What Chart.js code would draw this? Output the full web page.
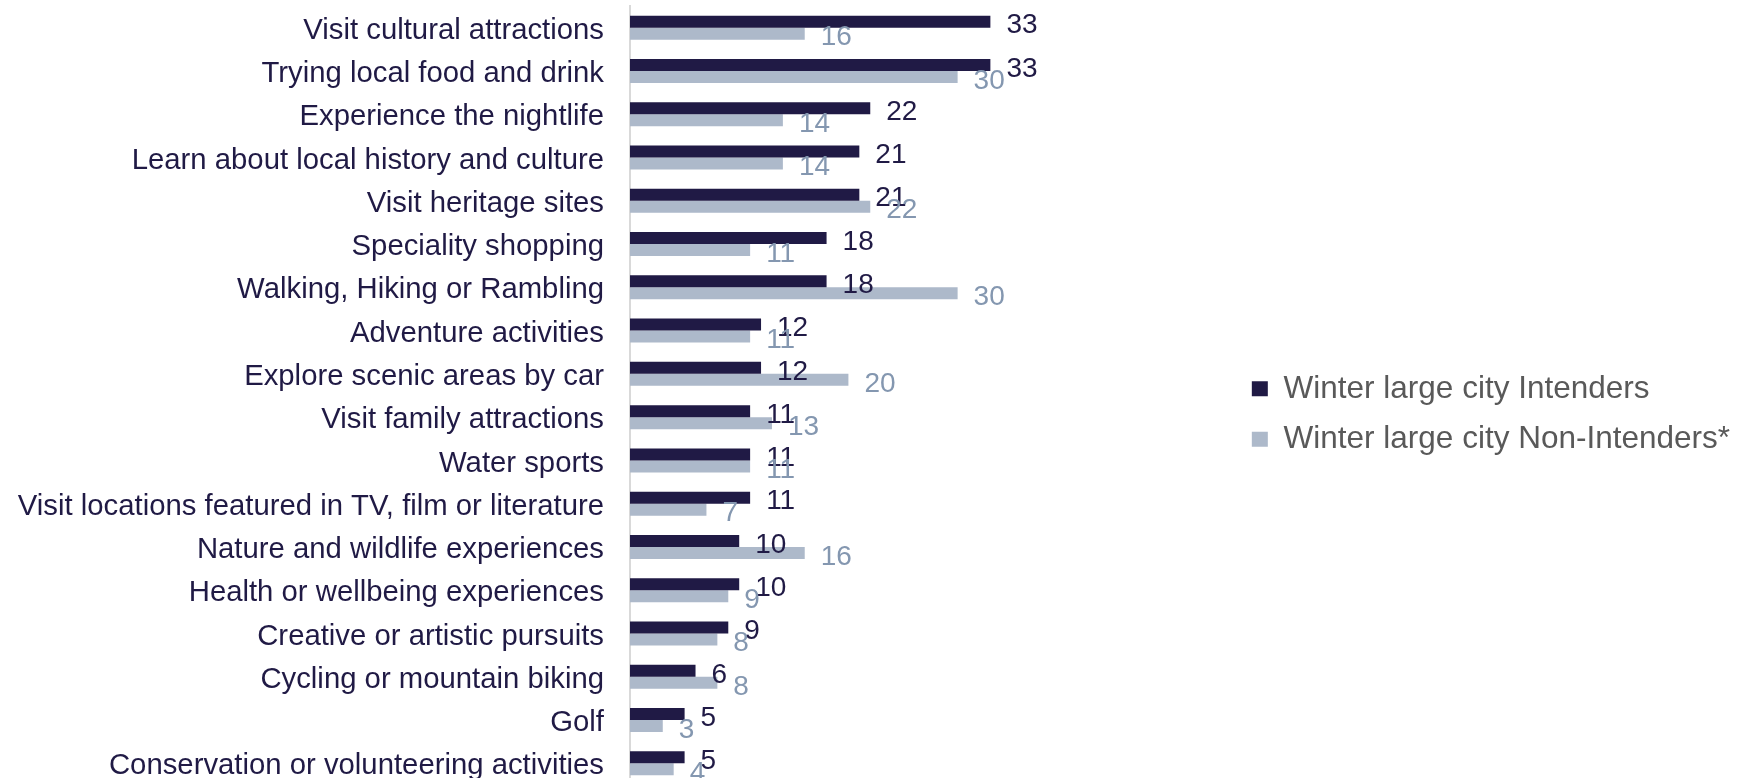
<!DOCTYPE html>
<html>
<head>
<meta charset="utf-8">
<script src="https://cdn.jsdelivr.net/npm/chart.js@4"></script>
<style>
  html, body { margin: 0; padding: 0; background: #ffffff; overflow: hidden; }
  #wrap { width: 1744px; height: 778px; overflow: hidden; }
</style>
</head>
<body>
<div id="wrap"><canvas id="chart-canvas" width="1744" height="786"></canvas></div>
<script>
const categories = [
    'Visit cultural attractions',
    'Trying local food and drink',
    'Experience the nightlife',
    'Learn about local history and culture',
    'Visit heritage sites',
    'Speciality shopping',
    'Walking, Hiking or Rambling',
    'Adventure activities',
    'Explore scenic areas by car',
    'Visit family attractions',
    'Water sports',
    'Visit locations featured in TV, film or literature',
    'Nature and wildlife experiences',
    'Health or wellbeing experiences',
    'Creative or artistic pursuits',
    'Cycling or mountain biking',
    'Golf',
    'Conservation or volunteering activities'
];
const intenders = [33, 33, 22, 21, 21, 18, 18, 12, 12, 11, 11, 11, 10, 10, 9, 6, 5, 5];
const nonIntenders = [16, 30, 14, 14, 22, 11, 30, 11, 20, 13, 11, 7, 16, 9, 8, 8, 3, 4];
const seriesNames = ['Winter large city Intenders', 'Winter large city Non-Intenders*'];

const FONT = '"Liberation Sans", Arial, sans-serif';
const DARK = '#201a45';
const LIGHT = '#adb9ca';

// draws the value next to the end of every bar
const valueLabels = {
    id: 'valueLabels',
    afterDatasetsDraw(chart) {
        const c = chart.ctx;
        const colors = [DARK, '#8497b0'];
        c.save();
        c.font = '28px ' + FONT;
        c.textAlign = 'left';
        c.textBaseline = 'middle';
        chart.data.datasets.forEach((ds, i) => {
            const meta = chart.getDatasetMeta(i);
            c.fillStyle = colors[i];
            meta.data.forEach((bar, j) => {
                c.fillText(String(ds.data[j]), bar.x + 16, bar.y + 4);
            });
        });
        c.restore();
    }
};

const ctx = document.getElementById('chart-canvas').getContext('2d');
const myChart = new Chart(ctx, {
    type: 'bar',
    data: {
        labels: categories,
        datasets: [
            { label: seriesNames[0], data: intenders, backgroundColor: DARK, categoryPercentage: 0.554, barPercentage: 1.0 },
            { label: seriesNames[1], data: nonIntenders, backgroundColor: LIGHT, categoryPercentage: 0.554, barPercentage: 1.0 }
        ]
    },
    plugins: [valueLabels],
    options: {
        indexAxis: 'y',
        responsive: false,
        animation: false,
        layout: {
            padding: { top: 6, bottom: 1, left: 0, right: 4 }
        },
        plugins: {
            tooltip: { enabled: false },
            legend: {
                position: 'right',
                maxWidth: 560,
                title: { display: true, text: ' ', font: { size: 1 }, padding: 18 },
                labels: {
                    boxWidth: 16,
                    boxHeight: 15,
                    padding: 19,
                    color: '#595959',
                    font: { family: FONT, size: 31.5 }
                }
            }
        },
        scales: {
            x: {
                display: false,
                min: 0,
                max: 55.2
            },
            y: {
                grid: { display: false, drawTicks: false },
                border: { display: true, color: '#d9d9d9', width: 2 },
                ticks: {
                    color: DARK,
                    padding: 26,
                    labelOffset: 3,
                    font: { family: FONT, size: 29.3 }
                },
                afterFit(scale) {
                    scale.width = 630;
                    scale.paddingTop = 0;
                    scale.paddingBottom = 0;
                }
            }
        }
    }
});
</script>
</body>
</html>
